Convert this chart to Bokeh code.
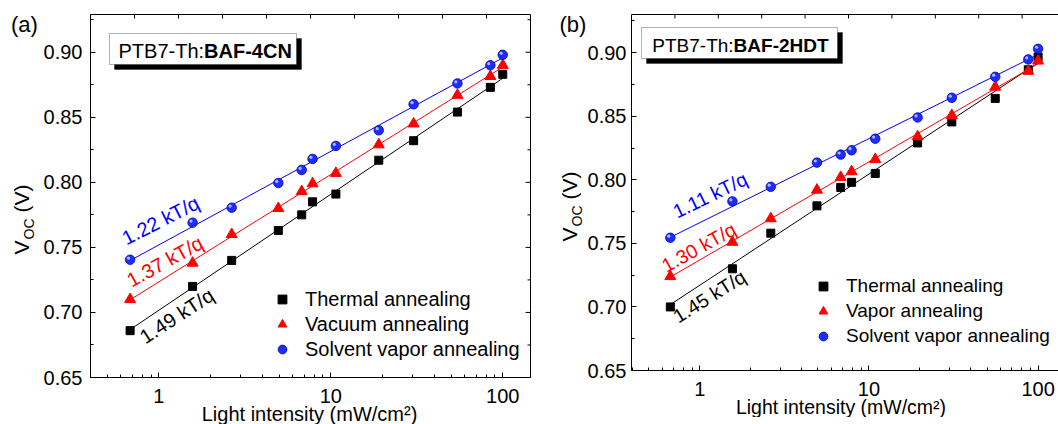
import math
import numpy as np
from bokeh.plotting import figure
from bokeh.models import (Range1d, FixedTicker, PrintfTickFormatter, BasicTickFormatter,
                          BoxAnnotation, Legend, LegendItem)
from bokeh.core.properties import value
from bokeh.layouts import row
from bokeh.embed import file_html
from bokeh.resources import INLINE

# ---------------- data ----------------
intensity_a = [0.68, 1.57, 2.65, 4.95, 6.77, 7.83, 10.7, 19.0, 30.3, 54.5, 84.7, 100]
thermal_a = [0.686, 0.720, 0.740, 0.763, 0.775, 0.785, 0.791, 0.817, 0.832, 0.854, 0.873, 0.883]
vacuum_a = [0.710, 0.738, 0.760, 0.780, 0.793, 0.799, 0.807, 0.829, 0.845, 0.867, 0.8815, 0.890]
solvent_a = [0.7405, 0.769, 0.7805, 0.7995, 0.8095, 0.818, 0.828, 0.840, 0.860, 0.876, 0.890, 0.898]

intensity_b = [0.67, 1.56, 2.63, 4.93, 6.81, 7.90, 10.9, 19.4, 30.9, 55.8, 87.5, 100]
thermal_b = [0.700, 0.730, 0.758, 0.7795, 0.794, 0.798, 0.805, 0.829, 0.8455, 0.864, 0.8865, 0.8965]
vapor_b = [0.724, 0.751, 0.7695, 0.792, 0.802, 0.8065, 0.816, 0.834, 0.8507, 0.873, 0.8855, 0.8935]
solvent_b = [0.7544, 0.783, 0.7945, 0.8135, 0.8198, 0.8232, 0.8323, 0.849, 0.8645, 0.881, 0.8947, 0.903]

labels_a = ["Thermal annealing", "Vacuum annealing", "Solvent vapor annealing"]
labels_b = ["Thermal annealing", "Vapor annealing", "Solvent vapor annealing"]
slopes_a = ["1.49 kT/q", "1.37 kT/q", "1.22 kT/q"]
slopes_b = ["1.45 kT/q", "1.30 kT/q", "1.11 kT/q"]
blend_a = "BAF-4CN"
blend_b = "BAF-2HDT"
donor = "PTB7-Th:"
x_title = "Light intensity (mW/cm\u00b2)"

y_ticks = [0.65, 0.70, 0.75, 0.80, 0.85, 0.90]
y_minor = [0.675, 0.725, 0.775, 0.825, 0.875, 0.925]
x_ticks = [1, 10, 100]
x_minor = [0.4, 0.5, 0.6, 0.7, 0.8, 0.9, 2, 3, 4, 5, 6, 7, 8, 9,
           20, 30, 40, 50, 60, 70, 80, 90]

FONT = "Liberation Sans"
BLACK, RED, BLUE = "#000000", "#ff0000", "#0000ff"
BASE_SHIFT = 5.5   # renderer puts alphabetic baseline this far below the anchor


class Frame:
    """maps page pixels to data values for a log-x / linear-y frame"""
    def __init__(self, fl, fr, ft, fb, x0, x1, y0, y1):
        self.fl, self.fr, self.ft, self.fb = fl, fr, ft, fb
        self.lx0, self.lx1 = math.log10(x0), math.log10(x1)
        self.x0, self.x1, self.y0, self.y1 = x0, x1, y0, y1

    def x(self, px):
        return 10 ** (self.lx0 + (px - self.fl) / (self.fr - self.fl) * (self.lx1 - self.lx0))

    def y(self, py):
        return self.y0 + (self.fb - py) / (self.fb - self.ft) * (self.y1 - self.y0)

    def dy(self, npx):
        return npx / (self.fb - self.ft) * (self.y1 - self.y0)

    def xfac(self, npx):
        return 10 ** (npx / (self.fr - self.fl) * (self.lx1 - self.lx0))


def fit_line(xs, ys):
    lx = np.log10(xs)
    k, b = np.polyfit(lx, ys, 1)
    xe = np.array([xs[0], xs[-1]])
    return xe, k * np.log10(xe) + b


def add_text(p, fr, px, py, txt, size, color="black", align="left", angle=0,
             style="normal", outside=False):
    a = math.radians(angle)
    px -= BASE_SHIFT * math.sin(a)
    py -= BASE_SHIFT * math.cos(a)
    p.text(x=[fr.x(px)], y=[fr.y(py)], text=[txt], angle=angle, angle_units="deg",
           text_font=value(FONT), text_font_size=value("%gpx" % size), text_color=color,
           text_align=align, text_baseline="alphabetic", text_font_style=style,
           level="overlay" if outside else "glyph")


def build(cfg):
    fr = cfg["frame"]
    fs = cfg["fs"]
    p = figure(width=cfg["width"], height=cfg["height"], x_axis_type="log",
               x_range=Range1d(fr.x0, fr.x1), y_range=Range1d(fr.y0, fr.y1),
               output_backend="svg", toolbar_location=None,
               min_border_left=cfg["mbl"], min_border_right=cfg["mbr"],
               min_border_top=cfg["mbt"], min_border_bottom=cfg["mbb"])
    p.background_fill_color = "white"
    p.border_fill_color = "white"
    p.grid.visible = False
    p.outline_line_color = "black" if cfg["outline"] else None

    xa = p.xaxis[0]
    xa.ticker = FixedTicker(ticks=x_ticks, minor_ticks=x_minor)
    xa.formatter = BasicTickFormatter()
    ya = p.yaxis[0]
    ya.ticker = FixedTicker(ticks=y_ticks, minor_ticks=y_minor)
    ya.formatter = PrintfTickFormatter(format="%.2f")
    for ax, standoff in ((xa, 11), (ya, cfg["ystand"])):
        ax.axis_line_color = "black"
        ax.major_tick_in = 5
        ax.major_tick_out = 0
        ax.minor_tick_in = 3
        ax.minor_tick_out = 0
        ax.major_tick_line_color = "black"
        ax.minor_tick_line_color = "black"
        ax.major_label_text_font = FONT
        ax.major_label_text_font_size = "20px"
        ax.major_label_text_color = "black"
        ax.major_label_standoff = standoff

    # mirrored ticks on top (evenly spaced) and right
    tt = cfg["top_ticks"]
    p.segment(x0=tt, y0=[fr.y1] * len(tt), x1=tt, y1=[fr.y1 - fr.dy(4)] * len(tt),
              line_color="black", line_width=1)
    if not cfg["outline"]:
        p.segment(x0=[fr.x0], y0=[fr.y1], x1=[fr.x1], y1=[fr.y1], line_color="black",
                  line_width=1, level="overlay")
    if cfg["right_ticks"]:
        f5, f3 = fr.xfac(5), fr.xfac(3)
        p.segment(x0=[fr.x1] * len(y_ticks), y0=y_ticks, x1=[fr.x1 / f5] * len(y_ticks), y1=y_ticks,
                  line_color="black", line_width=1)
        p.segment(x0=[fr.x1] * len(y_minor), y0=y_minor, x1=[fr.x1 / f3] * len(y_minor), y1=y_minor,
                  line_color="black", line_width=1)

    xs = cfg["xs"]
    colors = [BLACK, RED, BLUE]
    for ys, col in zip(cfg["series"], colors):
        xe, ye = fit_line(xs, ys)
        p.line(xe, ye, line_color=col, line_width=1)
    r1 = p.scatter(xs, cfg["series"][0], marker="square", size=8, fill_color=BLACK, line_color=BLACK)
    r2 = p.scatter(xs, cfg["series"][1], marker="triangle", size=11, fill_color=RED, line_color=RED)
    r3 = p.scatter(xs, cfg["series"][2], marker="circle", size=9.5, fill_color="#1e2dff",
                   line_color="#0000b4", line_width=0.8)
    # small highlight to give the spheres their shaded look
    hx = [v / fr.xfac(1.6) for v in xs]
    hy = [v + fr.dy(1.6) for v in cfg["series"][2]]
    p.scatter(hx, hy, marker="circle", size=3.2, fill_color="#b4c3ff", line_color=None, fill_alpha=0.95)
    rends = [r1, r2, r3]

    legend = Legend(items=[LegendItem(label=l, renderers=[r]) for l, r in zip(cfg["labels"], rends)],
                    location=cfg["legend_loc"], orientation="vertical",
                    label_text_font=FONT, label_text_font_size=cfg["legend_font"],
                    label_text_color="black",
                    glyph_width=22, glyph_height=24, label_height=24, label_standoff=12,
                    spacing=1, padding=0, margin=0,
                    border_line_color=None, background_fill_alpha=0)
    p.add_layout(legend)

    # slope annotations
    for txt, col, (px, py, ang) in zip(cfg["slopes"], colors, cfg["slope_pos"]):
        add_text(p, fr, px, py, txt, fs, color=col, angle=ang)

    # title box with shadow
    bl, bt, br, bb = cfg["box"]
    p.add_layout(BoxAnnotation(left=fr.x(bl + 5), right=fr.x(br + 5), top=fr.y(bt + 5), bottom=fr.y(bb + 5),
                               fill_color="black", fill_alpha=1, line_color="black", line_width=1))
    p.add_layout(BoxAnnotation(left=fr.x(bl), right=fr.x(br), top=fr.y(bt), bottom=fr.y(bb),
                               fill_color="white", fill_alpha=1, line_color="black", line_width=1))
    tx, ty = cfg["box_text"]
    bfs = cfg["box_fs"]
    add_text(p, fr, tx, ty, donor, bfs, outside=True)
    add_text(p, fr, tx + 4.279 * bfs, ty, cfg["blend"], bfs, style="bold", outside=True)

    # panel letter
    lx, ly = cfg["letter_pos"]
    add_text(p, fr, lx, ly, cfg["letter"], 22, outside=True)

    # x axis title
    cx, cy = cfg["xlabel_pos"]
    add_text(p, fr, cx, cy, x_title, fs, align="center", outside=True)

    # y axis title V_OC (V), rotated; pieces run upward from (vx, vy)
    vx, vy = cfg["ylabel_pos"]
    add_text(p, fr, vx, vy, "V", 21, angle=90, outside=True)
    add_text(p, fr, vx + 8, vy - 15, "OC", 14, angle=90, outside=True)
    add_text(p, fr, vx, vy - 42, "(V)", 21, angle=90, outside=True)
    return p


# ---------- panel (a) ----------
fa = Frame(90, 530, 14, 377, 0.4, 145, 0.65, 0.929)
top_a = [fa.x(90 + k * 44.0) for k in range(1, 10)]
cfg_a = dict(width=540, height=424, frame=fa, fs=20,
             mbl=90, mbr=10, mbt=14, mbb=47, outline=True, right_ticks=True, ystand=8,
             top_ticks=top_a, xs=intensity_a, series=[thermal_a, vacuum_a, solvent_a],
             labels=labels_a, legend_loc=(181, 16), legend_font="20px",
             slopes=slopes_a,
             slope_pos=[(144.3, 342.7, 33), (130.6, 286, 29), (125.4, 243.7, 27)],
             box=(109, 33, 296, 64), box_text=(118, 55.5), box_fs=20, blend=blend_a,
             letter="(a)", letter_pos=(10.5, 29), xlabel_pos=(309, 419), ylabel_pos=(26, 254))

# ---------- panel (b) ----------
fb = Frame(631, 1058, 14, 370, 0.395, 132, 0.65, 0.93)
top_b = [fb.x(631 + k * 43.4) for k in range(1, 10)]
cfg_b = dict(width=518, height=417, frame=fb, fs=19.5,
             mbl=91, mbr=0, mbt=14, mbb=47, outline=False, right_ticks=False, ystand=5,
             top_ticks=top_b, xs=intensity_b, series=[thermal_b, vapor_b, solvent_b],
             labels=labels_b, legend_loc=(181, 22), legend_font="19px",
             slopes=slopes_b,
             slope_pos=[(677.2, 322, 32), (665.3, 271.3, 29), (676, 217, 26)],
             box=(641, 27, 837, 58), box_text=(651.8, 50), box_fs=19, blend=blend_b,
             letter="(b)", letter_pos=(559, 29), xlabel_pos=(840.5, 412), ylabel_pos=(574, 241))

pa = build(cfg_a)
pb = build(cfg_b)
layout = row(pa, pb)
open("out.html", "w").write(file_html(layout, INLINE))
